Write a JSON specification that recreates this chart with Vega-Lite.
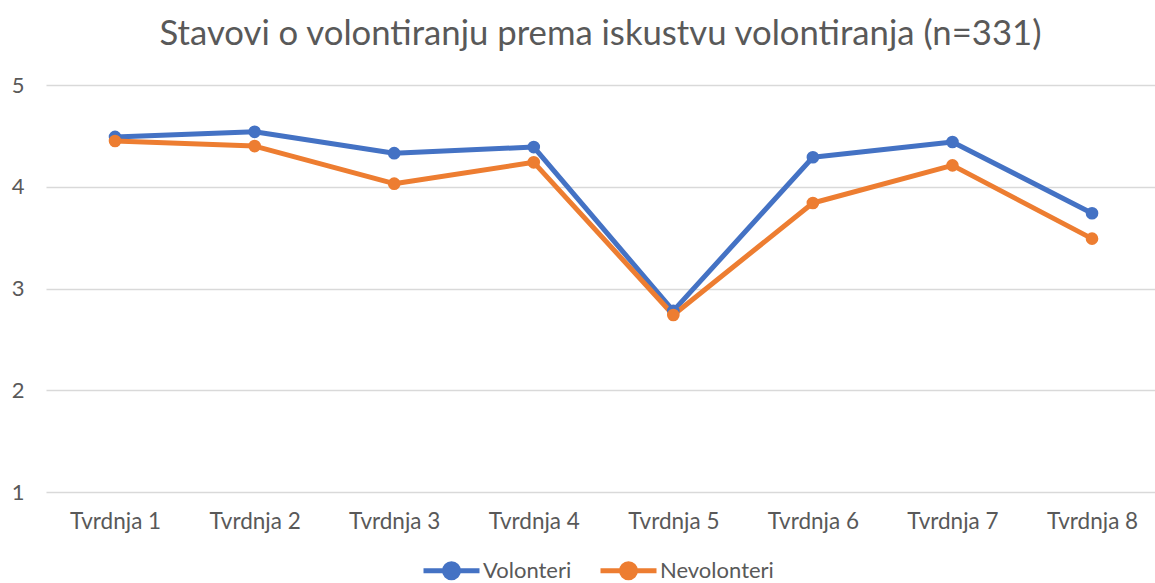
{
  "$schema": "https://vega.github.io/schema/vega-lite/v6.json",
  "autosize": {"type": "none"},
  "width": 1109,
  "height": 407,
  "padding": {"left": 46, "top": 85, "right": 0, "bottom": 91},
  "background": "white",
  "title": {
    "text": "Stavovi o volontiranju prema iskustvu volontiranja (n=331)",
    "font": "Lato",
    "fontSize": 34.7,
    "fontWeight": "normal",
    "color": "#595959",
    "anchor": "middle",
    "offset": 21
  },
  "data": {
    "values": [
      {"tvrdnja": "Tvrdnja 1", "grupa": "Volonteri", "vrijednost": 4.49},
      {"tvrdnja": "Tvrdnja 2", "grupa": "Volonteri", "vrijednost": 4.54},
      {"tvrdnja": "Tvrdnja 3", "grupa": "Volonteri", "vrijednost": 4.33},
      {"tvrdnja": "Tvrdnja 4", "grupa": "Volonteri", "vrijednost": 4.39},
      {"tvrdnja": "Tvrdnja 5", "grupa": "Volonteri", "vrijednost": 2.78},
      {"tvrdnja": "Tvrdnja 6", "grupa": "Volonteri", "vrijednost": 4.29},
      {"tvrdnja": "Tvrdnja 7", "grupa": "Volonteri", "vrijednost": 4.44},
      {"tvrdnja": "Tvrdnja 8", "grupa": "Volonteri", "vrijednost": 3.74},
      {"tvrdnja": "Tvrdnja 1", "grupa": "Nevolonteri", "vrijednost": 4.45},
      {"tvrdnja": "Tvrdnja 2", "grupa": "Nevolonteri", "vrijednost": 4.40},
      {"tvrdnja": "Tvrdnja 3", "grupa": "Nevolonteri", "vrijednost": 4.03},
      {"tvrdnja": "Tvrdnja 4", "grupa": "Nevolonteri", "vrijednost": 4.24},
      {"tvrdnja": "Tvrdnja 5", "grupa": "Nevolonteri", "vrijednost": 2.74},
      {"tvrdnja": "Tvrdnja 6", "grupa": "Nevolonteri", "vrijednost": 3.84},
      {"tvrdnja": "Tvrdnja 7", "grupa": "Nevolonteri", "vrijednost": 4.21},
      {"tvrdnja": "Tvrdnja 8", "grupa": "Nevolonteri", "vrijednost": 3.49}
    ]
  },
  "encoding": {
    "x": {
      "field": "tvrdnja",
      "type": "ordinal",
      "sort": null,
      "scale": {"type": "point", "padding": 0.473, "align": 0.523},
      "axis": {
        "title": null,
        "labelAngle": 0,
        "ticks": false,
        "domain": false,
        "grid": false,
        "labelFont": "Lato",
        "labelFontSize": 22.5,
        "labelColor": "#595959",
        "labelPadding": 18
      }
    },
    "y": {
      "field": "vrijednost",
      "type": "quantitative",
      "scale": {"domain": [1, 5], "nice": false, "zero": false},
      "axis": {
        "title": null,
        "values": [1, 2, 3, 4, 5],
        "ticks": false,
        "domain": false,
        "grid": true,
        "gridColor": "#d9d9d9",
        "gridWidth": 1.5,
        "labelFont": "Lato",
        "labelFontSize": 22,
        "labelColor": "#595959",
        "labelPadding": 22
      }
    },
    "color": {
      "field": "grupa",
      "type": "nominal",
      "sort": ["Volonteri", "Nevolonteri"],
      "scale": {"domain": ["Volonteri", "Nevolonteri"], "range": ["#4472C4", "#ED7D31"]},
      "legend": {
        "title": null,
        "orient": "none",
        "legendX": 375,
        "legendY": 455,
        "direction": "horizontal",
        "labelFont": "Lato",
        "labelFontSize": 22,
        "labelColor": "#595959",
        "labelOffset": 1,
        "columnPadding": 18,
        "symbolType": "M-1,0L1,0M-0.25,0A0.25,0.25,0,1,1,0.25,0A0.25,0.25,0,1,1,-0.25,0",
        "symbolSize": 3136,
        "symbolStrokeWidth": 5,
        "symbolFillColor": null
      }
    }
  },
  "layer": [
    {
      "mark": {"type": "line", "strokeWidth": 5, "strokeJoin": "round", "strokeCap": "round"}
    },
    {
      "mark": {"type": "point", "filled": true, "opacity": 1, "size": 160}
    }
  ],
  "config": {
    "view": {"stroke": null},
    "legend": {"symbolStrokeColor": null}
  }
}
